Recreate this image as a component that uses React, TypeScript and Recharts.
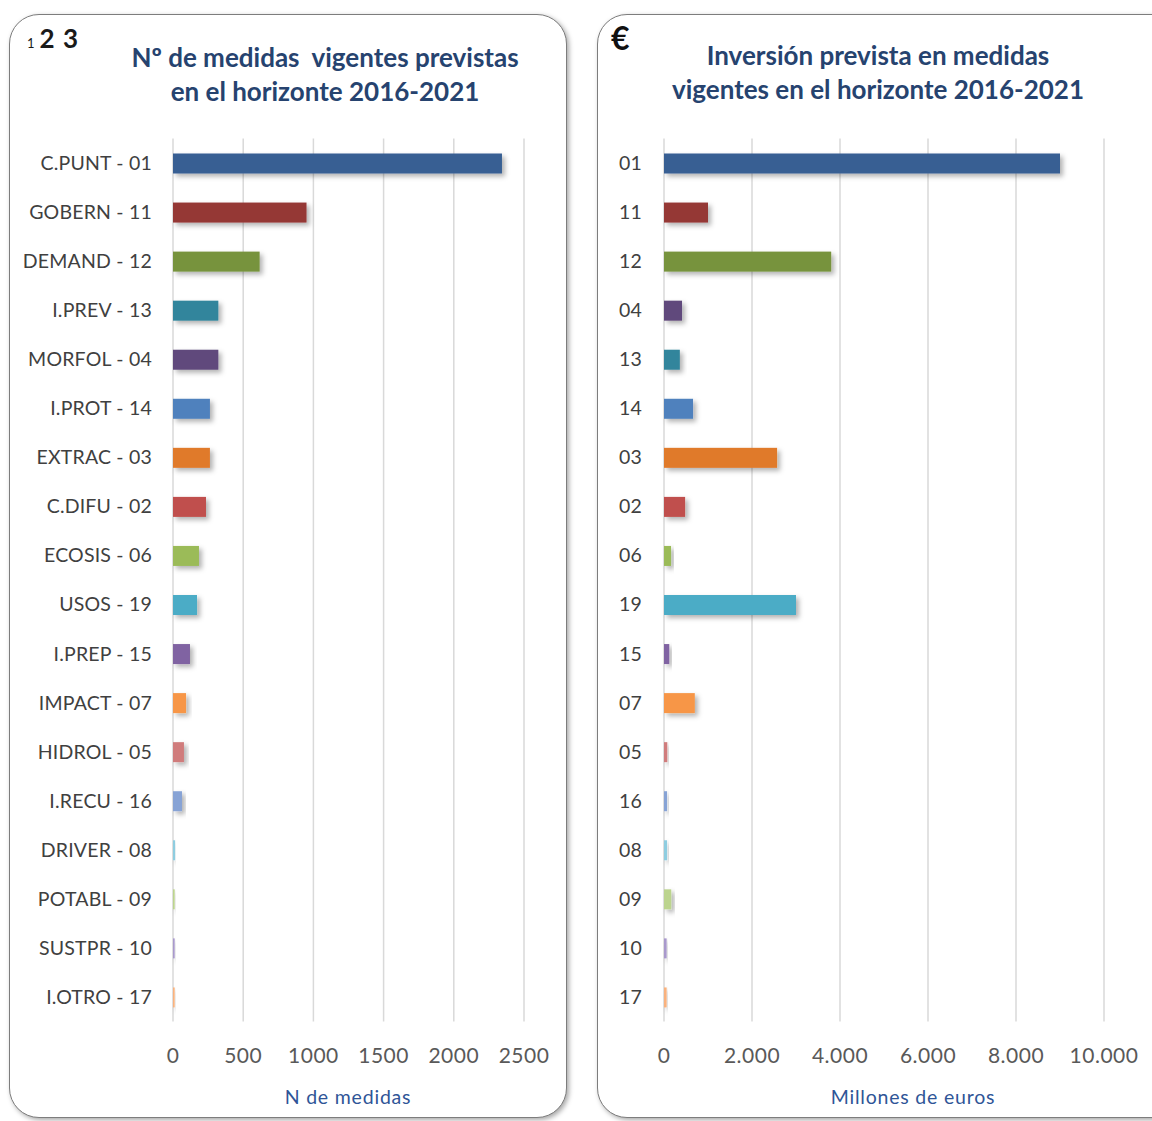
import React from 'react';
import { BarChart, Bar, XAxis, YAxis, CartesianGrid, Cell } from 'recharts';

const leftCategories = [
  'C.PUNT - 01', 'GOBERN - 11', 'DEMAND - 12', 'I.PREV - 13', 'MORFOL - 04', 'I.PROT - 14',
  'EXTRAC - 03', 'C.DIFU - 02', 'ECOSIS - 06', 'USOS - 19', 'I.PREP - 15', 'IMPACT - 07',
  'HIDROL - 05', 'I.RECU - 16', 'DRIVER - 08', 'POTABL - 09', 'SUSTPR - 10', 'I.OTRO - 17',
];
const leftValues = [2343, 951, 617, 323, 323, 263, 263, 235, 185, 171, 121, 93, 78, 64, 15, 12, 12, 12];
const leftTicks = [0, 500, 1000, 1500, 2000, 2500];

const rightCategories = ['01', '11', '12', '04', '13', '14', '03', '02', '06', '19', '15', '07', '05', '16', '08', '09', '10', '17'];
const rightValues = [9000, 1000, 3800, 410, 360, 660, 2570, 480, 160, 3000, 120, 700, 75, 70, 70, 165, 60, 60];
const rightTicks = [0, 2000, 4000, 6000, 8000, 10000];

const codeColors: Record<string, string> = {
  '01': '#385F93',
  '11': '#953735',
  '12': '#77933C',
  '13': '#31859C',
  '04': '#604A7B',
  '14': '#4F81BD',
  '03': '#E07A2C',
  '02': '#C0504D',
  '06': '#9BBB59',
  '19': '#4BACC6',
  '15': '#8064A2',
  '07': '#F79646',
  '05': '#D07C7C',
  '16': '#87A3D5',
  '08': '#8ECDE0',
  '09': '#BCD48E',
  '10': '#A999CC',
  '17': '#F9B27E',
};

const codeOf = (label: string) => label.slice(-2);

const leftData = leftCategories.map((name, i) => ({ name, value: leftValues[i] }));
const rightData = rightCategories.map((name, i) => ({ name, value: rightValues[i] }));

const fmtThousands = (v: number) => String(v).replace(/\B(?=(\d{3})+(?!\d))/g, '.');

const FONT = 'Lato, "DejaVu Sans", sans-serif';

const ShadowBar = (props: any) => {
  const { x, y, width, height, fill } = props;
  if (width == null || height == null) return null;
  return <rect x={x} y={y} width={Math.max(width, 0)} height={height} fill={fill} filter="url(#barShadow)" />;
};

const panelStyle: React.CSSProperties = {
  position: 'absolute',
  top: 14,
  height: 1104,
  border: '1.5px solid #7d7d7d',
  borderRadius: 30,
  boxShadow: '2px 2px 5px rgba(0,0,0,0.35)',
  background: '#ffffff',
  boxSizing: 'border-box',
};

const titleStyle: React.CSSProperties = {
  position: 'absolute',
  textAlign: 'center',
  fontFamily: FONT,
  fontWeight: 700,
  fontSize: 26,
  lineHeight: '34px',
  color: '#26436F',
  whiteSpace: 'pre',
};

const axisLabelStyle: React.CSSProperties = {
  position: 'absolute',
  textAlign: 'center',
  fontFamily: FONT,
  fontSize: 19.5,
  color: '#2F5597',
  letterSpacing: 0.8,
  whiteSpace: 'pre',
};

const xTick = { fontFamily: FONT, fontSize: 21, fill: '#595959', letterSpacing: 0.5 };
const yTick = { fontFamily: FONT, fontSize: 19.5, fill: '#404040', letterSpacing: 0.2 };

export default function App() {
  return (
    <div style={{ position: 'absolute', left: 0, top: 0, width: 1152, height: 1121, overflow: 'hidden', background: '#ffffff' }}>
      <svg width={0} height={0} style={{ position: 'absolute' }}>
        <defs>
          <filter id="barShadow" x="-20%" y="-50%" width="160%" height="250%">
            <feDropShadow dx="3" dy="3" stdDeviation="2.5" floodColor="#000000" floodOpacity="0.3" />
          </filter>
        </defs>
      </svg>

      <div style={{ ...panelStyle, left: 9, width: 558 }} />
      <div style={{ ...panelStyle, left: 597, width: 600 }} />

      <div style={{ position: 'absolute', left: 27, top: 22, fontFamily: FONT, color: '#1a1a1a', display: 'flex', alignItems: 'baseline' }}>
        <span style={{ fontSize: 13, marginRight: 5 }}>1</span>
        <span style={{ fontSize: 26, fontWeight: 700, letterSpacing: 1 }}>2 3</span>
      </div>
      <div style={{ position: 'absolute', left: 611, top: 18, fontFamily: FONT, fontSize: 32, fontWeight: 700, color: '#111111' }}>€</div>

      <div style={{ ...titleStyle, left: 75, width: 500, top: 40 }}>
        {'Nº de medidas  vigentes previstas\nen el horizonte 2016-2021'}
      </div>
      <div style={{ ...titleStyle, left: 628, width: 500, top: 38 }}>
        {'Inversión prevista en medidas\nvigentes en el horizonte 2016-2021'}
      </div>

      <div style={{ position: 'absolute', left: 0, top: 0 }}>
        <BarChart
          width={576}
          height={1121}
          data={leftData}
          layout="vertical"
          margin={{ top: 138.5, bottom: 69.5, left: 13, right: 52 }}
          barSize={20}
        >
          <CartesianGrid horizontal={false} vertical stroke="#d9d9d9" strokeWidth={1.5} />
          <XAxis
            type="number"
            domain={[0, 2500]}
            ticks={leftTicks}
            height={30}
            axisLine={false}
            tickLine={false}
            tickSize={0}
            tickMargin={27}
            tick={xTick}
            interval={0}
          />
          <YAxis
            type="category"
            dataKey="name"
            width={160}
            axisLine={false}
            tickLine={false}
            tickSize={0}
            tickMargin={21}
            interval={0}
            tick={yTick}
          />
          <Bar dataKey="value" isAnimationActive={false} shape={ShadowBar}>
            {leftData.map((d) => (
              <Cell key={d.name} fill={codeColors[codeOf(d.name)]} />
            ))}
          </Bar>
        </BarChart>
      </div>

      <div style={{ position: 'absolute', left: 576, top: 0 }}>
        <BarChart
          width={576}
          height={1121}
          data={rightData}
          layout="vertical"
          margin={{ top: 138.5, bottom: 69.5, left: 28, right: 48 }}
          barSize={20}
        >
          <CartesianGrid horizontal={false} vertical stroke="#d9d9d9" strokeWidth={1.5} />
          <XAxis
            type="number"
            domain={[0, 10000]}
            ticks={rightTicks}
            height={30}
            axisLine={false}
            tickLine={false}
            tickSize={0}
            tickMargin={27}
            tickFormatter={fmtThousands}
            tick={xTick}
            interval={0}
          />
          <YAxis
            type="category"
            dataKey="name"
            width={60}
            axisLine={false}
            tickLine={false}
            tickSize={0}
            tickMargin={22}
            interval={0}
            tick={yTick}
          />
          <Bar dataKey="value" isAnimationActive={false} shape={ShadowBar}>
            {rightData.map((d) => (
              <Cell key={d.name} fill={codeColors[codeOf(d.name)]} />
            ))}
          </Bar>
        </BarChart>
      </div>

      <div style={{ ...axisLabelStyle, left: 198, width: 300, top: 1085 }}>N de medidas</div>
      <div style={{ ...axisLabelStyle, left: 763, width: 300, top: 1085 }}>Millones de euros</div>
    </div>
  );
}
